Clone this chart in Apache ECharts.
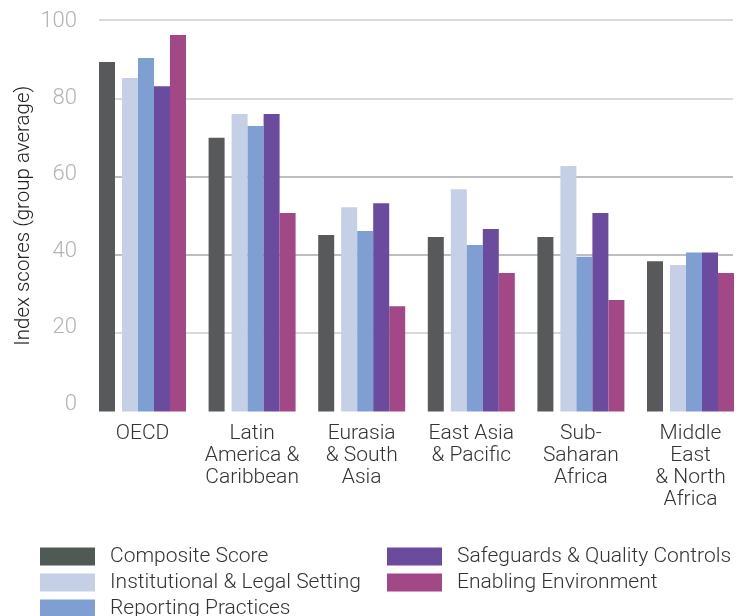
<!DOCTYPE html>
<html>
<head>
<meta charset="utf-8">
<script src="https://cdn.jsdelivr.net/npm/echarts@6/dist/echarts.min.js"></script>
<style>
html,body{margin:0;padding:0;background:#fff;}
#chart{width:749px;height:616px;}
</style>
</head>
<body>
<div id="chart"></div>
<script>
const categories = ['OECD', 'Latin\nAmerica &\nCaribbean', 'Eurasia\n& South\nAsia', 'East Asia\n& Pacific', 'Sub-\nSaharan\nAfrica', 'Middle\nEast\n& North\nAfrica'];
const composite     = [89.3, 69.9, 45.1, 44.6, 44.6, 38.4];
const institutional = [85.2, 76.0, 52.2, 56.8, 62.7, 37.4];
const reporting     = [90.3, 72.9, 46.1, 42.5, 39.5, 40.6];
const safeguards    = [83.1, 76.0, 53.2, 46.6, 50.7, 40.6];
const enabling      = [96.2, 50.7, 26.9, 35.4, 28.5, 35.4];
const yTicks = [0, 20, 40, 60, 80, 100];

const seriesNames = ['Composite Score', 'Institutional & Legal Setting', 'Reporting Practices', 'Safeguards & Quality Controls', 'Enabling Environment'];
const colors = ['#58595b', '#c5d0e6', '#7f9fd3', '#6b4b9e', '#a24886'];
const FONT = 'Roboto';

const chart = echarts.init(document.getElementById('chart'), null, {renderer: 'canvas'});

function bar(name, data, color) {
  return {
    name: name, type: 'bar', xAxisIndex: 1, yAxisIndex: 1,
    data: data, barWidth: 16, barGap: '0%',
    itemStyle: {color: color}, emphasis: {disabled: true}, silent: true
  };
}

const legendText = {color: '#333', fontFamily: FONT, fontWeight: 300, fontSize: 21, lineHeight: 18, padding: [0, 0, 0, 10]};

const option = {
  animation: false,
  backgroundColor: '#ffffff',
  grid: [
    {left: 99, right: 16, top: 20, bottom: 204.5},      // gridlines
    {left: 87.7, right: 3.7, top: 20, bottom: 204.5},   // bars
    {left: 99, right: 16, top: 21.7, bottom: 212}       // y tick labels
  ],
  xAxis: [
    {gridIndex: 0, type: 'value', show: false, min: 0, max: 1},
    {gridIndex: 1, type: 'category', data: categories,
     axisLine: {show: false}, axisTick: {show: false},
     axisLabel: {margin: 11, color: '#333', fontFamily: FONT, fontWeight: 300, fontSize: 21, lineHeight: 22, interval: 0}},
    {gridIndex: 2, type: 'value', show: false, min: 0, max: 1}
  ],
  yAxis: [
    {gridIndex: 0, type: 'value', min: yTicks[0], max: yTicks[yTicks.length-1], interval: 20,
     axisLabel: {show: false}, axisLine: {show: false}, axisTick: {show: false},
     splitLine: {show: true, lineStyle: {width: 1.5, color: ['rgba(0,0,0,0)', '#cdcdcd', '#a9a9ae', '#a9a9ae', '#cdcdcd', '#cdcdcd']}},
     name: 'Index scores (group average)', nameLocation: 'middle', nameGap: 65,
     nameTextStyle: {color: '#222', fontFamily: FONT, fontWeight: 300, fontSize: 20.5}},
    {gridIndex: 1, type: 'value', min: yTicks[0], max: yTicks[yTicks.length-1], interval: 20, show: false},
    {gridIndex: 2, type: 'value', min: yTicks[0], max: yTicks[yTicks.length-1], interval: 20,
     axisLine: {show: false}, axisTick: {show: false}, splitLine: {show: false},
     axisLabel: {margin: 22, color: '#b3b3b3', fontFamily: FONT, fontWeight: 300, fontSize: 22}}
  ],
  legend: [
    {left: 40, top: 546, height: 120, padding: 0, orient: 'vertical', itemWidth: 55, itemHeight: 18, itemGap: 5,
     icon: 'rect', selectedMode: false, textStyle: legendText,
     data: [{name: seriesNames[0], itemStyle: {color: '#505a55'}}, seriesNames[1], seriesNames[2]]},
    {left: 387, top: 546, height: 120, padding: 0, orient: 'vertical', itemWidth: 55, itemHeight: 18, itemGap: 5,
     icon: 'rect', data: seriesNames.slice(3), selectedMode: false, textStyle: legendText}
  ],
  series: [
    bar(seriesNames[0], composite, colors[0]),
    {name: 'spacer', type: 'bar', xAxisIndex: 1, yAxisIndex: 1, barWidth: 7, barGap: '0%',
     data: composite.map(() => '-'), itemStyle: {color: 'rgba(0,0,0,0)'}, silent: true},
    bar(seriesNames[1], institutional, colors[1]),
    bar(seriesNames[2], reporting, colors[2]),
    bar(seriesNames[3], safeguards, colors[3]),
    bar(seriesNames[4], enabling, colors[4])
  ]
};
chart.setOption(option);
</script>
</body>
</html>
